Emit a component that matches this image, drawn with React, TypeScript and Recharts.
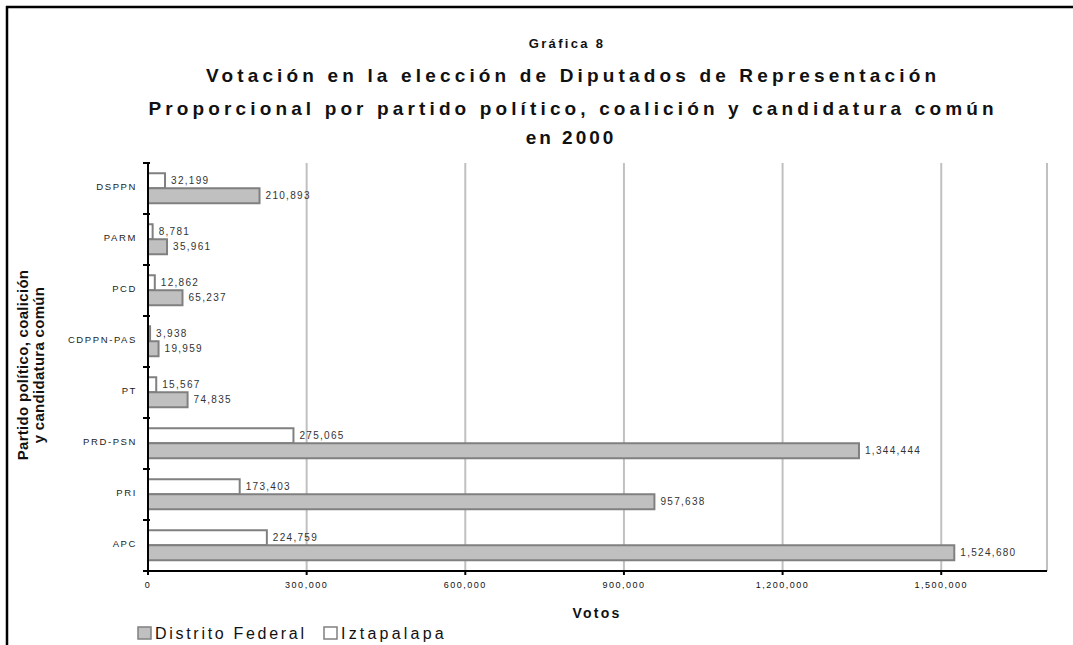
import React from 'react';
import { BarChart, Bar, XAxis, YAxis, CartesianGrid, LabelList } from 'recharts';

const categories = ['DSPPN', 'PARM', 'PCD', 'CDPPN-PAS', 'PT', 'PRD-PSN', 'PRI', 'APC'];
const distritoFederal = [210893, 35961, 65237, 19959, 74835, 1344444, 957638, 1524680];
const iztapalapa = [32199, 8781, 12862, 3938, 15567, 275065, 173403, 224759];
const xTicks = [0, 300000, 600000, 900000, 1200000, 1500000];
const xMax = 1700000;
const titleSmall = 'Gráfica 8';
const titleLines = [
  'Votación en la elección de Diputados de Representación',
  'Proporcional por partido político, coalición y candidatura común',
  'en 2000',
];
const yTitleLines = ['Partido político, coalición', 'y candidatura común'];
const xTitle = 'Votos';
const seriesNames = { df: 'Distrito Federal', iz: 'Iztapalapa' };

const data = categories.map((name, i) => ({ name, df: distritoFederal[i], iz: iztapalapa[i] }));

const FONT = '"Liberation Sans", Arial, sans-serif';
const fmt = (v: number) => Number(v).toLocaleString('en-US');

const PLOT_TOP = 163;
const PLOT_BOTTOM = 571;
const HALF_BAND = (PLOT_BOTTOM - PLOT_TOP) / categories.length / 2;

const CategoryTick = (props: any) => {
  const { x, y, payload, index } = props;
  const half = payload && payload.offset ? payload.offset : HALF_BAND;
  const last = index === categories.length - 1;
  return (
    <g>
      <line x1={x - 5} x2={x + 2} y1={y - half} y2={y - half} stroke="#000" strokeWidth={2} />
      {last && <line x1={x - 5} x2={x + 2} y1={y + half} y2={y + half} stroke="#000" strokeWidth={2} />}
      <text x={x - 11} y={y - 2} textAnchor="end" dominantBaseline="central" fontFamily={FONT} fontSize={9.5} letterSpacing={1.6} fill="#222">
        {payload.value}
      </text>
    </g>
  );
};

export default function App() {
  return (
    <div style={{ position: 'absolute', left: 0, top: 0, width: 1073, height: 645, background: '#fff', overflow: 'hidden' }}>
      <BarChart
        layout="vertical"
        width={1073}
        height={645}
        data={data}
        margin={{ top: 163, right: 26, bottom: 44, left: 48 }}
        barCategoryGap="20%"
        barGap={0}
      >
        <CartesianGrid xAxisId="x" yAxisId="cat" horizontal={false} stroke="#c0c0c0" strokeWidth={2} />
        <XAxis
          xAxisId="x"
          type="number"
          domain={[0, xMax]}
          ticks={xTicks}
          allowDataOverflow
          height={30}
          tickFormatter={fmt}
          tickSize={4}
          tickMargin={7}
          tickLine={{ stroke: '#000', strokeWidth: 2 }}
          axisLine={{ stroke: '#000', strokeWidth: 2 }}
          tick={{ fontFamily: FONT, fontSize: 9, letterSpacing: 1.5, fill: '#111' }}
          interval={0}
        />
        <XAxis
          xAxisId="top"
          orientation="top"
          type="number"
          domain={[0, xMax]}
          height={0}
          tick={false}
          tickLine={false}
          axisLine={{ stroke: '#808080', strokeWidth: 2 }}
        />
        <YAxis
          yAxisId="cat"
          type="category"
          dataKey="name"
          width={100}
          interval={0}
          tickSize={0}
          tickMargin={0}
          tickLine={false}
          axisLine={{ stroke: '#000', strokeWidth: 2 }}
          tick={<CategoryTick />}
        />
        <YAxis
          yAxisId="right"
          orientation="right"
          type="number"
          domain={[0, 1]}
          width={0}
          tick={false}
          tickLine={false}
          axisLine={{ stroke: '#808080', strokeWidth: 2 }}
        />
        <Bar xAxisId="x" yAxisId="cat" dataKey="iz" name={seriesNames.iz} fill="#ffffff" stroke="#808080" strokeWidth={2} isAnimationActive={false}>
          <LabelList dataKey="iz" position="right" offset={6} formatter={fmt} style={{ fontFamily: FONT, fontSize: 10, letterSpacing: 1.3, fill: '#333' }} />
        </Bar>
        <Bar xAxisId="x" yAxisId="cat" dataKey="df" name={seriesNames.df} fill="#c0c0c0" stroke="#808080" strokeWidth={2} isAnimationActive={false}>
          <LabelList dataKey="df" position="right" offset={6} formatter={fmt} style={{ fontFamily: FONT, fontSize: 10, letterSpacing: 1.3, fill: '#333' }} />
        </Bar>
      </BarChart>
      <svg width={1073} height={645} style={{ position: 'absolute', left: 0, top: 0, pointerEvents: 'none' }}>
        <line x1={6} x2={1073} y1={7} y2={7} stroke="#000" strokeWidth={2.5} />
        <line x1={7} x2={7} y1={6} y2={645} stroke="#000" strokeWidth={2.5} />
        <g fontFamily={FONT} fontWeight="bold" fill="#111" textAnchor="middle">
          <text x={567} y={48} fontSize={13} letterSpacing={2.3}>{titleSmall}</text>
          <text x={571} y={82} fontSize={19} textLength={730} lengthAdjust="spacing">{titleLines[0]}</text>
          <text x={571} y={115} fontSize={19} textLength={845} lengthAdjust="spacing">{titleLines[1]}</text>
          <text x={571} y={144} fontSize={19} letterSpacing={3}>{titleLines[2]}</text>
          <text x={597} y={618} fontSize={14} letterSpacing={2.2}>{xTitle}</text>
          <text transform="translate(22,365) rotate(-90)" fontSize={15} letterSpacing={0.3} dominantBaseline="central">{yTitleLines[0]}</text>
          <text transform="translate(38,365) rotate(-90)" fontSize={15} letterSpacing={0.3} dominantBaseline="central">{yTitleLines[1]}</text>
        </g>
        <g fontFamily={FONT} fontSize={16} fill="#111">
          <rect x={138} y={627} width={13} height={12} fill="#c0c0c0" stroke="#808080" strokeWidth={1.5} />
          <text x={155} y={639} letterSpacing={2.7}>{seriesNames.df}</text>
          <rect x={324} y={627} width={13} height={12} fill="#fff" stroke="#808080" strokeWidth={1.5} />
          <text x={341} y={639} letterSpacing={3.2}>{seriesNames.iz}</text>
        </g>
      </svg>
    </div>
  );
}
